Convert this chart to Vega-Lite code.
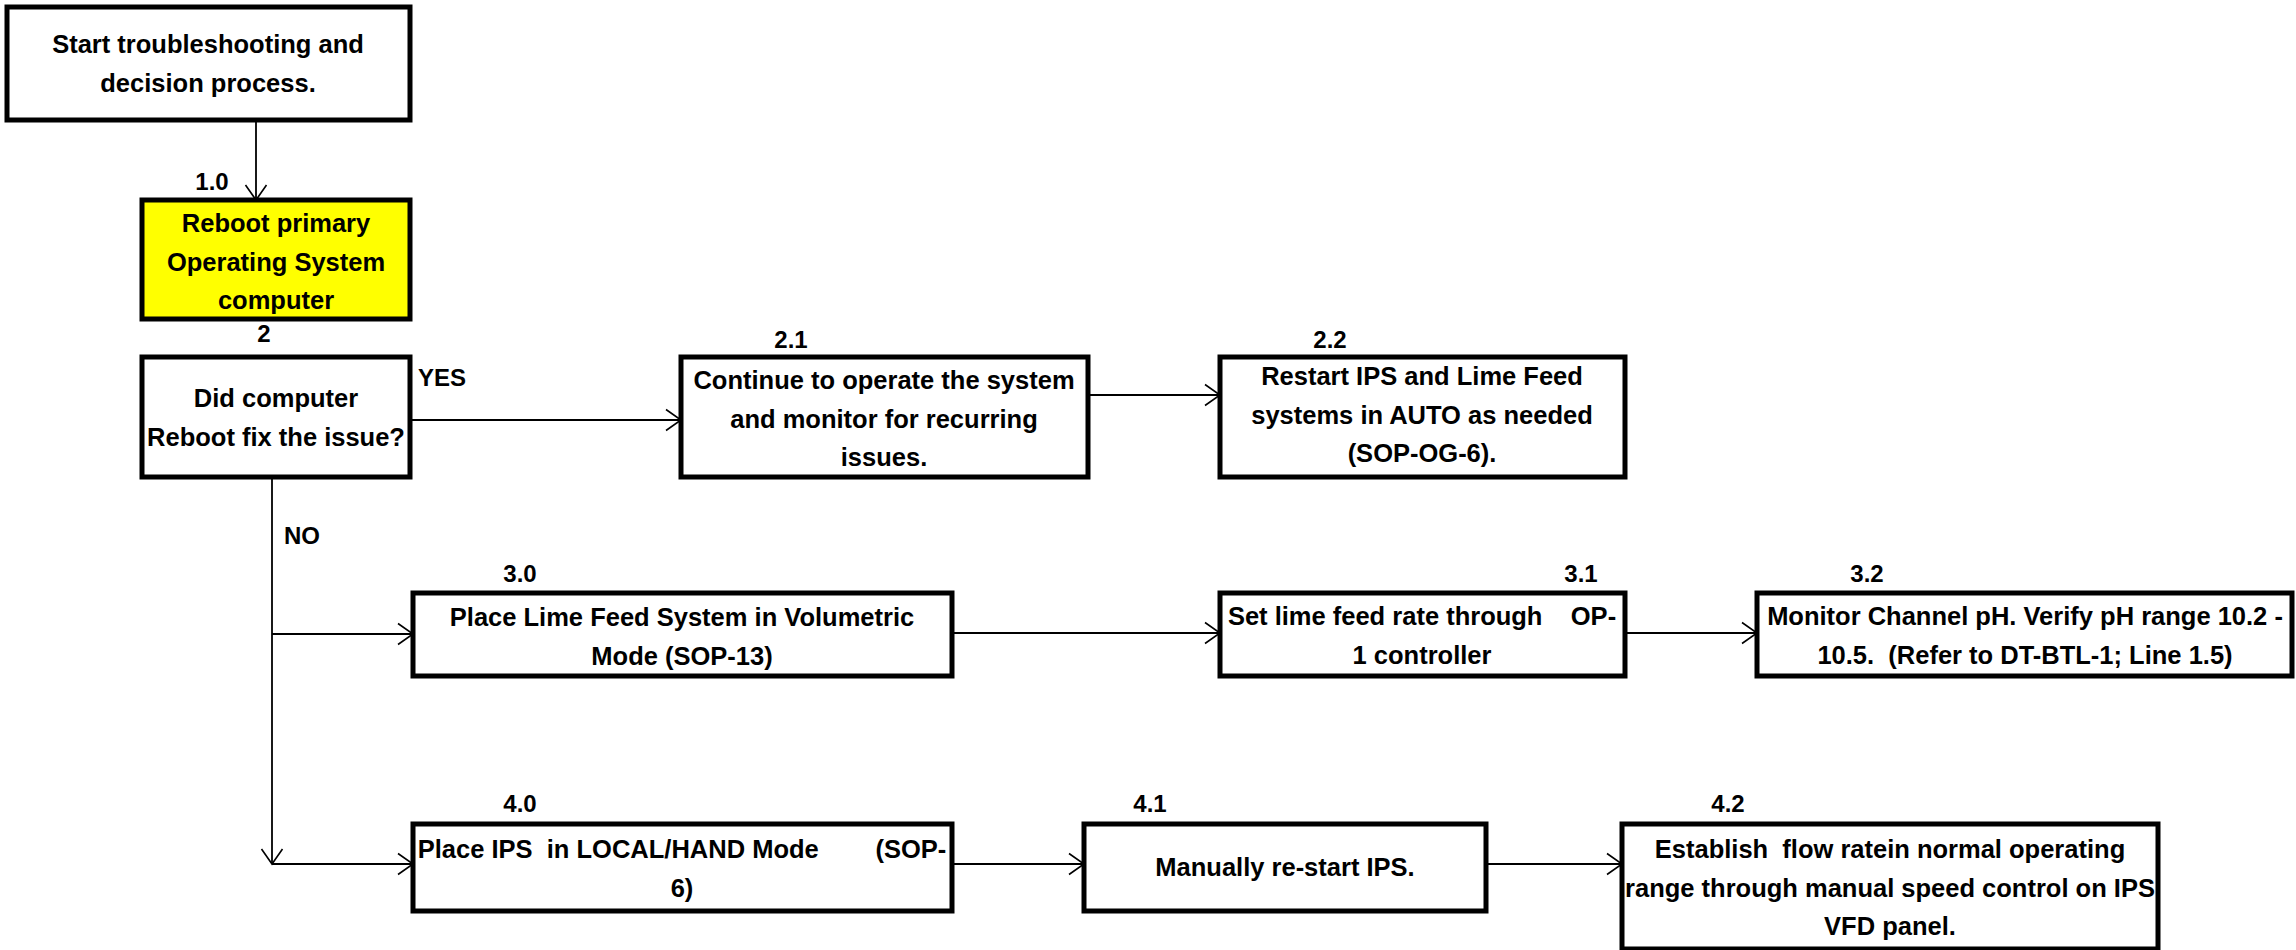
{
  "$schema": "https://vega.github.io/schema/vega-lite/v6.json",
  "width": 2296,
  "height": 950,
  "autosize": {"type": "none"},
  "padding": 0,
  "background": "white",
  "config": {"view": {"stroke": null}},
  "datasets": {
    "boxes": [
      {"id": "start", "kind": "plain", "x1": 7, "x2": 410, "y1": 7, "y2": 120, "cx": 208, "cy": 45, "label": "Start troubleshooting and\ndecision process."},
      {"id": "1.0", "kind": "highlight", "x1": 142, "x2": 410, "y1": 200, "y2": 319, "cx": 276, "cy": 224, "label": "Reboot primary\nOperating System\ncomputer"},
      {"id": "2", "kind": "plain", "x1": 142, "x2": 410, "y1": 357, "y2": 477, "cx": 276, "cy": 399, "label": "Did computer\nReboot fix the issue?"},
      {"id": "2.1", "kind": "plain", "x1": 681, "x2": 1088, "y1": 357, "y2": 477, "cx": 884, "cy": 381, "label": "Continue to operate the system\nand monitor for recurring\nissues."},
      {"id": "2.2", "kind": "plain", "x1": 1220, "x2": 1625, "y1": 357, "y2": 477, "cx": 1422, "cy": 377, "label": "Restart IPS and Lime Feed\nsystems in AUTO as needed\n(SOP-OG-6)."},
      {"id": "3.0", "kind": "plain", "x1": 413, "x2": 952, "y1": 593, "y2": 676, "cx": 682, "cy": 618, "label": "Place Lime Feed System in Volumetric\nMode (SOP-13)"},
      {"id": "3.1", "kind": "plain", "x1": 1220, "x2": 1625, "y1": 593, "y2": 676, "cx": 1422, "cy": 617, "label": "Set lime feed rate through\u00a0\u00a0\u00a0\u00a0OP-\n1 controller"},
      {"id": "3.2", "kind": "plain", "x1": 1757, "x2": 2292, "y1": 593, "y2": 676, "cx": 2025, "cy": 617, "label": "Monitor Channel pH. Verify pH range 10.2 -\n10.5.\u00a0\u00a0(Refer to DT-BTL-1; Line 1.5)"},
      {"id": "4.0", "kind": "plain", "x1": 413, "x2": 952, "y1": 824, "y2": 911, "cx": 682, "cy": 850, "label": "Place IPS\u00a0\u00a0in LOCAL/HAND Mode\u00a0\u00a0\u00a0\u00a0\u00a0\u00a0\u00a0\u00a0(SOP-\n6)"},
      {"id": "4.1", "kind": "plain", "x1": 1084, "x2": 1486, "y1": 824, "y2": 911, "cx": 1285, "cy": 868, "label": "Manually re-start IPS."},
      {"id": "4.2", "kind": "plain", "x1": 1622, "x2": 2158, "y1": 824, "y2": 949, "cx": 1890, "cy": 850, "label": "Establish\u00a0\u00a0flow ratein normal operating\nrange through manual speed control on IPS\nVFD panel."}
    ],
    "links": [
      {"xa": 256, "ya": 120, "xb": 256, "yb": 200, "dir": 90},
      {"xa": 410, "ya": 420, "xb": 681, "yb": 420, "dir": 0},
      {"xa": 1088, "ya": 395, "xb": 1220, "yb": 395, "dir": 0},
      {"xa": 272, "ya": 477, "xb": 272, "yb": 864, "dir": 90},
      {"xa": 272, "ya": 634, "xb": 413, "yb": 634, "dir": 0},
      {"xa": 952, "ya": 633, "xb": 1220, "yb": 633, "dir": 0},
      {"xa": 1625, "ya": 633, "xb": 1757, "yb": 633, "dir": 0},
      {"xa": 272, "ya": 864, "xb": 413, "yb": 864, "dir": 0},
      {"xa": 952, "ya": 864, "xb": 1084, "yb": 864, "dir": 0},
      {"xa": 1486, "ya": 864, "xb": 1622, "yb": 864, "dir": 0}
    ],
    "tags": [
      {"t": "1.0", "x": 212, "y": 183},
      {"t": "2", "x": 264, "y": 335},
      {"t": "YES", "x": 442, "y": 379},
      {"t": "NO", "x": 302, "y": 537},
      {"t": "2.1", "x": 791, "y": 341},
      {"t": "2.2", "x": 1330, "y": 341},
      {"t": "3.0", "x": 520, "y": 575},
      {"t": "3.1", "x": 1581, "y": 575},
      {"t": "3.2", "x": 1867, "y": 575},
      {"t": "4.0", "x": 520, "y": 805},
      {"t": "4.1", "x": 1150, "y": 805},
      {"t": "4.2", "x": 1728, "y": 805}
    ]
  },
  "layer": [
    {
      "data": {"name": "links"},
      "mark": {"type": "rule", "color": "black", "strokeWidth": 1.8},
      "encoding": {
        "x": {"field": "xa", "type": "quantitative", "scale": {"domain": [0, 2296]}, "axis": null},
        "y": {"field": "ya", "type": "quantitative", "scale": {"domain": [950, 0]}, "axis": null},
        "x2": {"field": "xb"},
        "y2": {"field": "yb"}
      }
    },
    {
      "data": {"name": "links"},
      "mark": {"type": "point", "shape": "M-1,-0.7L0,0L-1,0.7", "filled": false, "stroke": "black", "strokeWidth": 1.6, "size": 900, "opacity": 1},
      "encoding": {
        "x": {"field": "xb", "type": "quantitative", "scale": {"domain": [0, 2296]}, "axis": null},
        "y": {"field": "yb", "type": "quantitative", "scale": {"domain": [950, 0]}, "axis": null},
        "angle": {"field": "dir", "type": "quantitative", "scale": null}
      }
    },
    {
      "data": {"name": "boxes"},
      "mark": {"type": "rect", "stroke": "black", "strokeWidth": 5},
      "encoding": {
        "x": {"field": "x1", "type": "quantitative", "scale": {"domain": [0, 2296]}, "axis": null},
        "x2": {"field": "x2"},
        "y": {"field": "y1", "type": "quantitative", "scale": {"domain": [950, 0]}, "axis": null},
        "y2": {"field": "y2"},
        "fill": {"field": "kind", "type": "nominal", "scale": {"domain": ["plain", "highlight"], "range": ["#ffffff", "#ffff00"]}, "legend": null}
      }
    },
    {
      "data": {"name": "boxes"},
      "mark": {"type": "text", "font": "Liberation Sans", "fontWeight": "bold", "fontSize": 25.5, "lineBreak": "\n", "lineHeight": 38.5, "align": "center", "baseline": "middle", "color": "black"},
      "encoding": {
        "x": {"field": "cx", "type": "quantitative", "scale": {"domain": [0, 2296]}, "axis": null},
        "y": {"field": "cy", "type": "quantitative", "scale": {"domain": [950, 0]}, "axis": null},
        "text": {"field": "label"}
      }
    },
    {
      "data": {"name": "tags"},
      "mark": {"type": "text", "font": "Liberation Sans", "fontWeight": "bold", "fontSize": 24, "align": "center", "baseline": "middle", "color": "black"},
      "encoding": {
        "x": {"field": "x", "type": "quantitative", "scale": {"domain": [0, 2296]}, "axis": null},
        "y": {"field": "y", "type": "quantitative", "scale": {"domain": [950, 0]}, "axis": null},
        "text": {"field": "t"}
      }
    }
  ]
}
